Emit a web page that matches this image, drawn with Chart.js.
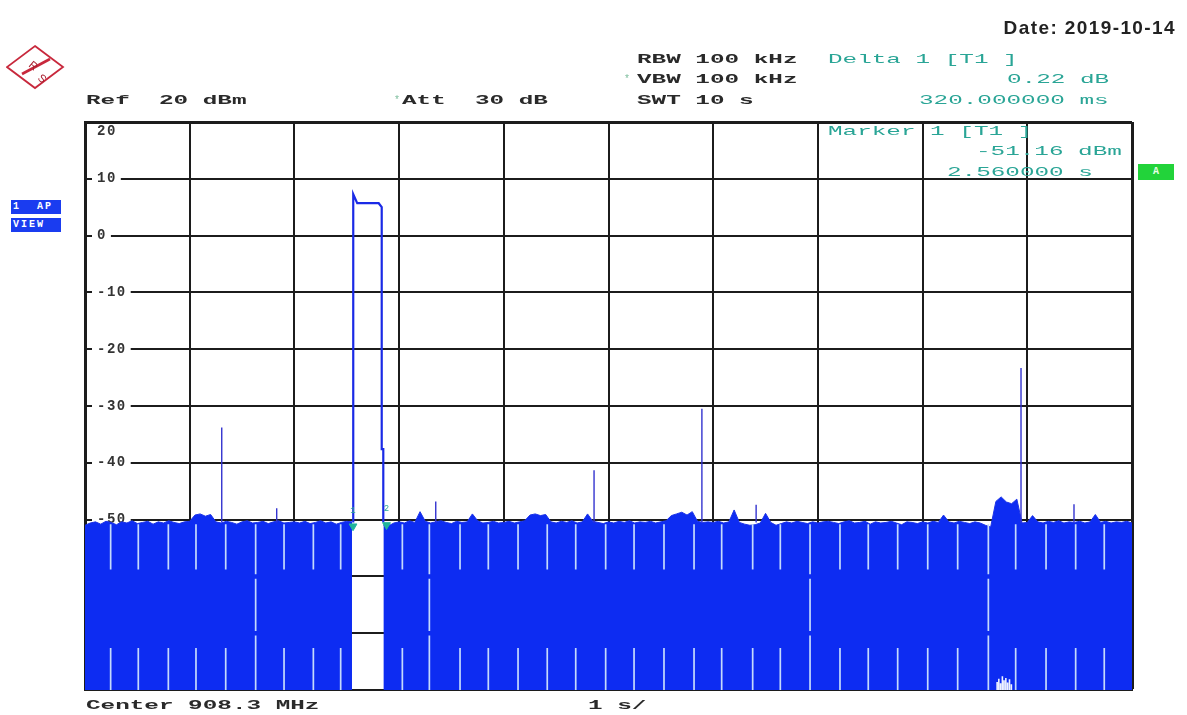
<!DOCTYPE html>
<html>
<head>
<meta charset="utf-8">
<script src="https://cdn.jsdelivr.net/npm/chart.js@4.4.1/dist/chart.umd.min.js"></script>
<style>
html,body{margin:0;padding:0;background:#fff;}
#wrap{position:relative;width:1187px;height:715px;overflow:hidden;background:#fff;}
#c{position:absolute;left:0;top:0;}
.m{position:absolute;font-family:'Liberation Mono','DejaVu Sans Mono',monospace;font-size:13px;font-weight:bold;line-height:14px;height:14px;white-space:pre;color:#2a2a2a;transform:scaleX(1.87);transform-origin:0 50%;}
.tl{color:#2aa596;font-weight:normal;}
.star{position:absolute;font-family:'Liberation Mono',monospace;font-size:10px;line-height:10px;color:#7fbf9f;}
.box{position:absolute;width:50px;height:14px;background:#1a3cf0;color:#fff;font-family:'Liberation Mono',monospace;font-weight:bold;font-size:10px;line-height:14px;white-space:pre;letter-spacing:2px;padding-left:2px;box-sizing:border-box;}
#date{position:absolute;right:11px;top:17px;font:bold 19px 'Liberation Sans',Arial,sans-serif;letter-spacing:1.4px;color:#222;}
#abox{position:absolute;left:1138px;top:164px;width:36px;height:16px;background:#22d33a;color:#e8ffe8;font:bold 10px 'Liberation Mono',monospace;line-height:16px;text-align:center;}
</style>
</head>
<body>
<div id="wrap">
<canvas id="c" width="1187" height="715"></canvas>

<svg style="position:absolute;left:6px;top:44px" width="60" height="46" viewBox="0 0 60 46">
  <polygon points="29,2 57,23 29,44 1,23" fill="#fff" stroke="#c8283c" stroke-width="1.8"/>
  <line x1="16" y1="30" x2="44" y2="15" stroke="#c8283c" stroke-width="2.6"/>
  <text x="22" y="22" font-family="Liberation Sans,Arial" font-size="11" fill="#a82030" transform="rotate(40 22 22)">R</text>
  <text x="31" y="35" font-family="Liberation Sans,Arial" font-size="11" fill="#a82030" transform="rotate(40 31 35)">S</text>
</svg>

<div id="date">Date: 2019-10-14</div>

<div class="m" style="left:86px;top:94px;">Ref  20 dBm</div>
<div class="star" style="left:394px;top:96px;">*</div>
<div class="m" style="left:402px;top:94px;">Att  30 dB</div>

<div class="m" style="left:637px;top:53px;">RBW 100 kHz</div>
<div class="star" style="left:624px;top:75px;">*</div>
<div class="m" style="left:637px;top:73px;">VBW 100 kHz</div>
<div class="m" style="left:637px;top:94px;">SWT 10 s</div>

<div class="m tl" style="left:828px;top:53px;">Delta 1 [T1 ]</div>
<div class="m tl" style="left:1007px;top:73px;">0.22 dB</div>
<div class="m tl" style="left:919px;top:94px;">320.000000 ms</div>

<div class="m tl" style="left:828px;top:125px;">Marker 1 [T1 ]</div>
<div class="m tl" style="left:976px;top:145px;">-51.16 dBm</div>
<div class="m tl" style="left:947px;top:166px;">2.560000 s</div>

<div class="box" style="left:11px;top:200px;">1  AP</div>
<div class="box" style="left:11px;top:218px;">VIEW</div>
<div id="abox">A</div>

<div class="m" style="left:86px;top:699px;">Center 908.3 MHz</div>
<div class="m" style="left:588px;top:699px;">1 s/</div>
</div>

<script>
// ---------------- data ----------------
// sweep: 10 s zero span, 1 s/div ; reference level 20 dBm, 10 dB/div
const xMinS = 0, xMaxS = 10, xStepS = 1;
const yMinDbm = -80, yMaxDbm = 20, yStepDb = 10;

// noise-floor envelope top (dBm), one value every 0.05 s from 0.00 to 10.00 s
const sampleStep = 0.05;
const noiseTop = [
  -51.0,-50.6,-50.4,-50.8,-50.3,-50.5,-50.9,-50.4,-50.6,-50.2,-50.7,-50.5,-50.3,-50.8,-50.4,-50.6,-50.2,-50.5,-50.7,-50.4,
  -50.3,-49.2,-49.0,-49.4,-49.1,-50.4,-50.6,-50.3,-50.5,-50.8,-50.4,-50.2,-50.6,-50.5,-50.3,-50.7,-50.4,-50.2,-50.6,-50.5,
  -50.4,-50.6,-50.3,-50.7,-50.5,-50.2,-50.6,-50.4,-50.8,-50.5,-50.3,-50.4,null,null,null,null,null,-51.0,-51.1,-50.6,
  -50.4,-50.6,-50.2,-50.5,-48.6,-50.3,-50.6,-50.4,-50.2,-50.5,-50.7,-50.3,-50.5,-50.4,-49.0,-50.2,-50.6,-50.5,-50.3,-50.6,
  -50.5,-50.3,-50.6,-50.4,-50.2,-49.2,-49.0,-49.3,-49.1,-50.4,-50.6,-50.3,-50.5,-50.2,-50.6,-50.4,-49.0,-50.3,-50.5,-50.7,
  -50.4,-50.6,-50.3,-50.5,-50.2,-50.6,-50.4,-50.5,-50.3,-50.6,-50.4,-50.2,-49.3,-49.0,-48.7,-49.2,-48.6,-50.3,-50.5,-50.4,
  -50.5,-50.3,-50.6,-50.4,-48.3,-50.5,-50.8,-51.0,-50.9,-50.6,-48.9,-50.5,-51.0,-50.7,-50.4,-50.6,-50.3,-50.5,-50.7,-50.4,
  -50.6,-50.4,-50.3,-50.5,-50.7,-50.4,-50.2,-50.6,-50.5,-50.3,-50.8,-50.4,-50.6,-50.5,-50.3,-50.6,-50.9,-50.4,-50.5,-50.7,
  -50.4,-50.6,-50.3,-50.5,-49.2,-50.4,-50.6,-50.3,-50.5,-50.7,-50.4,-50.6,-51.0,-51.3,-46.8,-46.0,-46.9,-47.2,-46.4,-50.6,
  -50.5,-49.3,-50.4,-50.6,-50.3,-50.5,-50.2,-50.6,-50.4,-50.5,-50.3,-50.6,-50.4,-49.1,-50.5,-50.3,-50.6,-50.4,-50.5,-50.3,-50.6
];

// narrow spurs (s, dBm peak)
const spurTimes = [1.306, 1.831, 3.35, 4.862, 5.892, 6.41, 8.94, 9.446];
const spurPeaks = [-33.8, -48.0, -46.8, -41.3, -30.5, -47.4, -23.3, -47.3];
const spurBase = -50.5;

// places where the trace does not reach the bottom (light holes in the filled floor)
const holeTimes = [0.245,0.509,0.796,1.060,1.344,1.901,2.181,2.442,3.031,3.582,3.852,4.136,4.415,4.687,4.973,
                   5.244,5.530,5.817,6.081,6.377,6.641,7.211,7.481,7.762,8.049,8.335,8.889,9.179,9.462,9.735];
const holeSpans = [[-50.8,-58.8],[-72.6,-80]];
const fullHoleTimes = [1.630, 3.289, 6.925, 8.628];
const fullHoleSpans = [[-50.8,-59.6],[-60.4,-69.6],[-70.4,-80]];
// raised-floor stretch: trace minimum stays slightly above the bottom
const floorGapTimes = [8.712, 8.728, 8.745, 8.762, 8.778, 8.795, 8.812, 8.830, 8.848];
const floorGapTops  = [-78.6, -78.0, -78.8, -77.6, -78.3, -77.9, -78.7, -78.1, -79.0];

// the burst (s, dBm)
const burstTimes = [2.562, 2.562, 2.600, 2.805, 2.834, 2.834, 2.849, 2.849];
const burstLevels = [-50.5, 7.3, 5.7, 5.7, 5.0, -37.6, -37.6, -50.5];

// markers
const markerTimes = [2.56, 2.88];
const markerLevels = [-51.16, -50.94];
const markerNames = ['1', '2'];

// ---------------- build ----------------
const noisePts = noiseTop.map((v, i) => ({x: i * sampleStep, y: v}));
function segs(times, spans) {
  const out = [];
  times.forEach(t => spans.forEach(s => { out.push({x:t,y:s[0]},{x:t,y:s[1]},{x:t,y:null}); }));
  return out;
}
const holePts = segs(holeTimes, holeSpans).concat(segs(fullHoleTimes, fullHoleSpans));
const floorPts = [];
floorGapTimes.forEach((t, i) => { floorPts.push({x:t,y:floorGapTops[i]},{x:t,y:yMinDbm},{x:t,y:null}); });
const spurPts = [];
spurTimes.forEach((t, i) => { spurPts.push({x:t,y:spurBase},{x:t,y:spurPeaks[i]},{x:t,y:null}); });
const burstPts = burstTimes.map((t, i) => ({x:t, y:burstLevels[i]}));
const markerPts = markerTimes.map((t, i) => ({x:t, y:markerLevels[i]}));

const INK = '#1c1c1c';
const LS = '1.5px';
const spacingPlugin = {
  id: 'spacing',
  beforeInit(chart){ chart.ctx.letterSpacing = LS; },
  beforeUpdate(chart){ chart.ctx.letterSpacing = LS; },
  beforeDraw(chart){ chart.ctx.letterSpacing = LS; }
};
const topLabelPlugin = {
  id: 'topLabel',
  afterDraw(chart){
    const ctx = chart.ctx, ys = chart.scales.y, xs = chart.scales.x;
    ctx.save();
    ctx.letterSpacing = LS;
    ctx.font = 'bold 14px "Liberation Mono", monospace';
    ctx.fillStyle = '#333';
    ctx.textBaseline = 'middle';
    ctx.textAlign = 'left';
    ctx.fillText(String(yMaxDbm), xs.left + 12, ys.getPixelForValue(yMaxDbm) + 9);
    // marker numbers
    ctx.font = '9px "Liberation Mono", monospace';
    ctx.letterSpacing = '0px';
    ctx.fillStyle = '#2aa596';
    ctx.textAlign = 'center';
    markerPts.forEach((p, i) => {
      ctx.fillText(markerNames[i], xs.getPixelForValue(p.x), ys.getPixelForValue(p.y) - 16);
    });
    ctx.restore();
  }
};

new Chart(document.getElementById('c'), {
  type: 'line',
  data: {
    datasets: [
      { label:'markers', data: markerPts, showLine:false, pointStyle:'triangle', rotation:180,
        pointRadius:4.5, pointBackgroundColor:'#21b49c', pointBorderColor:'#21b49c', order:1 },
      { label:'burst', data: burstPts, borderColor:'#1a2ae6', borderWidth:2.2, pointRadius:0, fill:false, tension:0, order:2 },
      { label:'spurs', data: spurPts, borderColor:'#3434cf', borderWidth:1.4, pointRadius:0, fill:false, spanGaps:false, order:3 },
      { label:'holes', data: holePts, borderColor:'#c4dafc', borderWidth:1.7, pointRadius:0, fill:false, spanGaps:false, order:4 },
      { label:'floor', data: floorPts, borderColor:'#eef3ff', borderWidth:1.6, pointRadius:0, fill:false, spanGaps:false, order:4 },
      { label:'trace', data: noisePts, borderColor:'#1a32e8', borderWidth:1, backgroundColor:'#0d2cf2',
        pointRadius:0, fill:'start', spanGaps:false, tension:0, order:5 }
    ]
  },
  options: {
    responsive:false, animation:false,
    layout:{ padding:{ left:61, top:122, right:55, bottom:25 } },
    plugins:{ legend:{display:false}, tooltip:{enabled:false} },
    scales:{
      x:{ type:'linear', min:xMinS, max:xMaxS,
          ticks:{ display:false, stepSize:xStepS },
          grid:{ color:INK, lineWidth: c => (c.tick && c.tick.value === xMaxS) ? 3 : 2, drawTicks:false },
          border:{ display:true, color:INK, width:2 } },
      y:{ type:'linear', min:yMinDbm, max:yMaxDbm,
          ticks:{ stepSize:yStepDb, mirror:true, padding:12, color:'#333',
                  font:{ family:'"Liberation Mono", monospace', size:14, weight:'bold' },
                  showLabelBackdrop:true,
                  backdropColor: c => (c.tick && (c.tick.value === yMaxDbm || c.tick.value === yMinDbm)) ? 'rgba(0,0,0,0)' : '#ffffff',
                  backdropPadding:{ top:0, bottom:0, left:5, right:4 },
                  callback: v => (v === yMaxDbm || v === yMinDbm) ? '' : String(v) },
          grid:{ color:INK, lineWidth: c => (c.tick && c.tick.value === yMaxDbm) ? 3 : 2, drawTicks:false },
          border:{ display:true, color:INK, width:3 } }
    }
  },
  plugins:[spacingPlugin, topLabelPlugin]
});
</script>
</body>
</html>
